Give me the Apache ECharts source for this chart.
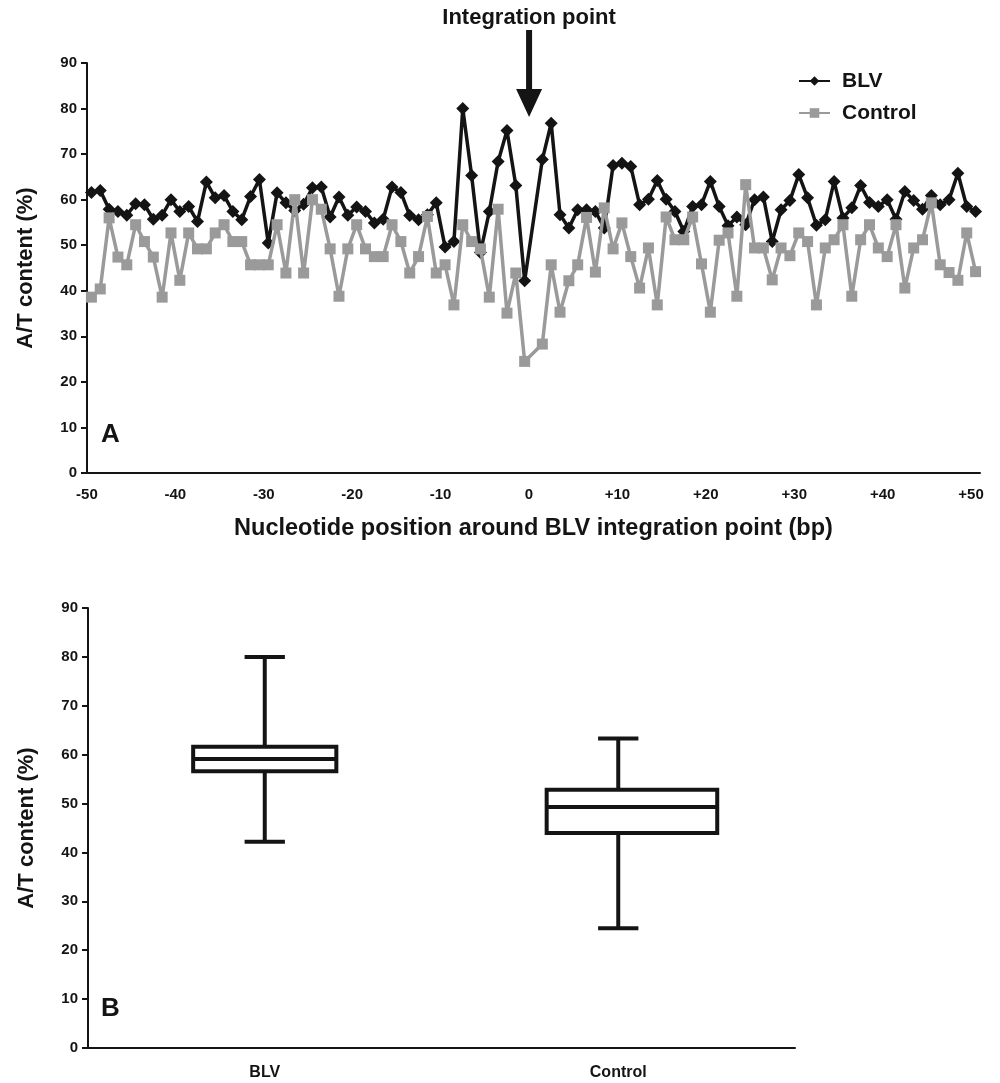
<!DOCTYPE html>
<html>
<head>
<meta charset="utf-8">
<script src="https://cdn.jsdelivr.net/npm/echarts@6/dist/echarts.min.js"></script>
<style>
  html, body { margin: 0; padding: 0; background: #ffffff; }
  #chart { width: 1000px; height: 1083px; }
</style>
</head>
<body>
<div id="chart"></div>
<script>
// Nucleotide positions around the integration point (-50 .. +50); position 0 is the
// integration site itself and carries no value.
const positions = [];
for (let p = -50; p <= 50; p++) positions.push(p === 0 ? '0' : (p > 0 ? '+' + p : String(p)));

// A/T content (%) per position, BLV integration sites
const blvValues = [
  61.6, 62.0, 57.9, 57.4, 56.6, 59.1, 58.9, 55.7, 56.6, 60.0,   // -50 .. -41
  57.4, 58.5, 55.2, 63.9, 60.4, 60.9, 57.4, 55.6, 60.7, 64.4,   // -40 .. -31
  50.5, 61.5, 59.3, 57.6, 59.0, 62.6, 62.8, 56.2, 60.6, 56.6,   // -30 .. -21
  58.4, 57.4, 54.9, 55.7, 62.8, 61.6, 56.5, 55.6, 56.7, 59.3,   // -20 .. -11
  49.6, 50.8, 80.0, 65.3, 48.4, 57.4, 68.4, 75.2, 63.1, 42.2,   // -10 .. -1
  null,                                                         // 0
  68.8, 76.8, 56.7, 53.8, 57.8, 57.8, 57.4, 53.8, 67.5, 68.0,   // +1 .. +10
  67.3, 58.9, 60.1, 64.2, 60.1, 57.4, 53.0, 58.5, 58.9, 64.0,   // +11 .. +20
  58.5, 54.3, 56.2, 54.5, 60.0, 60.6, 50.8, 57.8, 59.8, 65.5,   // +21 .. +30
  60.4, 54.4, 55.6, 64.0, 56.0, 58.2, 63.1, 59.4, 58.5, 60.0,   // +31 .. +40
  55.7, 61.8, 59.8, 57.9, 60.9, 58.9, 60.0, 65.8, 58.5, 57.4    // +41 .. +50
];

// A/T content (%) per position, control sequences
const controlValues = [
  38.6, 40.4, 56.0, 47.4, 45.7, 54.5, 50.8, 47.4, 38.6, 52.7,   // -50 .. -41
  42.3, 52.7, 49.2, 49.2, 52.7, 54.5, 50.8, 50.8, 45.7, 45.7,   // -40 .. -31
  45.7, 54.5, 43.9, 60.0, 43.9, 60.0, 57.9, 49.2, 38.8, 49.2,   // -30 .. -21
  54.5, 49.2, 47.5, 47.5, 54.5, 50.8, 43.9, 47.5, 56.3, 43.9,   // -20 .. -11
  45.7, 36.9, 54.5, 50.8, 49.2, 38.6, 57.9, 35.1, 43.9, 24.5,   // -10 .. -1
  null,                                                         // 0
  28.3, 45.7, 35.3, 42.2, 45.7, 56.1, 44.1, 58.2, 49.2, 54.9,   // +1 .. +10
  47.5, 40.6, 49.4, 36.9, 56.2, 51.2, 51.2, 56.2, 45.9, 35.3,   // +11 .. +20
  51.1, 52.7, 38.8, 63.3, 49.4, 49.4, 42.4, 49.4, 47.7, 52.7,   // +21 .. +30
  50.8, 36.9, 49.4, 51.2, 54.5, 38.8, 51.2, 54.5, 49.4, 47.5,   // +31 .. +40
  54.5, 40.6, 49.4, 51.2, 59.3, 45.7, 44.0, 42.3, 52.7, 44.2    // +41 .. +50
];

// Box-plot summary (panel B)
const groups    = ['BLV', 'Control'];
const boxMin    = [42.2, 24.5];
const boxQ1     = [56.6, 44.0];
const boxMedian = [59.1, 49.3];
const boxQ3     = [61.6, 52.8];
const boxMax    = [80.0, 63.3];

const FONT = '"Liberation Sans", Arial, Helvetica, sans-serif';
const INK = '#141414';
const GREY = '#9a9a9a';

// Box extents left / right of the whisker, as fractions of the category band
const boxSpan = { BLV: [0.2025, 0.2025], Control: [0.2025, 0.28] };
const capHalfFrac = 0.057;

const boxData = groups.map((g, i) => [i, boxMin[i], boxQ1[i], boxMedian[i], boxQ3[i], boxMax[i]]);

function renderBox(params, api) {
  const idx = api.value(0);
  const band = api.size([1, 0])[0];
  const span = boxSpan[groups[idx]];
  const left = band * span[0];
  const right = band * span[1];
  const capHalf = band * capHalfFrac;
  const pMin = api.coord([idx, api.value(1)]);
  const pQ1 = api.coord([idx, api.value(2)]);
  const pMed = api.coord([idx, api.value(3)]);
  const pQ3 = api.coord([idx, api.value(4)]);
  const pMax = api.coord([idx, api.value(5)]);
  const x = pMed[0];
  const stroke = { stroke: INK, lineWidth: 4, fill: null };
  const line = (x1, y1, x2, y2) => ({ type: 'line', shape: { x1, y1, x2, y2 }, style: stroke });
  return {
    type: 'group',
    children: [
      line(x, pMax[1], x, pQ3[1]),
      line(x, pQ1[1], x, pMin[1]),
      line(x - capHalf, pMax[1], x + capHalf, pMax[1]),
      line(x - capHalf, pMin[1], x + capHalf, pMin[1]),
      { type: 'rect', shape: { x: x - left, y: pQ3[1], width: left + right, height: pQ1[1] - pQ3[1] },
        style: { stroke: INK, lineWidth: 4, fill: '#ffffff' } },
      line(x - left, pMed[1], x + right, pMed[1])
    ]
  };
}

const axisText = { fontFamily: FONT, fontWeight: 'bold', fontSize: 15, color: INK };
const titleText = { fontFamily: FONT, fontWeight: 'bold', color: INK };

const valueAxis = (gridIndex) => ({
  gridIndex, type: 'value', min: 0, max: 90, interval: 10,
  splitLine: { show: false },
  axisLine: { show: true, lineStyle: { color: INK, width: 2 } },
  axisTick: { show: true, length: 6, lineStyle: { color: INK, width: 2 } },
  axisLabel: Object.assign({ margin: 10 }, axisText),
  name: 'A/T content (%)', nameLocation: 'middle', nameGap: 50,
  nameTextStyle: Object.assign({ fontSize: 22 }, titleText)
});

const chart = echarts.init(document.getElementById('chart'), null, { renderer: 'canvas' });

chart.setOption({
  animation: false,
  backgroundColor: '#ffffff',
  textStyle: { fontFamily: FONT },
  grid: [
    { left: 87, top: 63, width: 893, height: 410 },
    { left: 88, top: 608, width: 707, height: 440 }
  ],
  xAxis: [
    {
      gridIndex: 0, type: 'category', data: positions, boundaryGap: true,
      axisLine: { lineStyle: { color: INK, width: 2 } },
      axisTick: { interval: 9, length: 5, lineStyle: { color: INK, width: 2 } },
      // labels sit on the tick marks (band boundaries)
      axisLabel: Object.assign({ interval: 9, margin: 14, padding: [0, 9, 0, 0] }, axisText),
      name: 'Nucleotide position around BLV integration point (bp)',
      nameLocation: 'middle', nameGap: 44,
      nameTextStyle: Object.assign({ fontSize: 23.5 }, titleText)
    },
    {
      gridIndex: 1, type: 'category', data: groups, boundaryGap: true,
      axisLine: { lineStyle: { color: INK, width: 2 } },
      axisTick: { length: 5, lineStyle: { color: INK, width: 2 } },
      axisLabel: Object.assign({ margin: 17 }, axisText, { fontSize: 16 })
    }
  ],
  yAxis: [valueAxis(0), valueAxis(1)],
  legend: {
    data: ['BLV', 'Control'],
    orient: 'vertical', left: 798, top: 70, padding: 0,
    itemWidth: 31, itemHeight: 12, itemGap: 10,
    textStyle: { fontFamily: FONT, fontWeight: 'bold', fontSize: 21, color: INK, lineHeight: 22, padding: [0, 0, 0, 7] }
  },
  series: [
    {
      name: 'BLV', type: 'line', xAxisIndex: 0, yAxisIndex: 0,
      data: blvValues, connectNulls: true, showAllSymbol: true,
      symbol: 'diamond', symbolSize: 13,
      lineStyle: { color: INK, width: 3.5 }, itemStyle: { color: INK },
      z: 2
    },
    {
      name: 'Control', type: 'line', xAxisIndex: 0, yAxisIndex: 0,
      data: controlValues, connectNulls: true, showAllSymbol: true,
      symbol: 'rect', symbolSize: 11,
      lineStyle: { color: GREY, width: 3.5 }, itemStyle: { color: GREY },
      z: 3
    },
    {
      type: 'custom', xAxisIndex: 1, yAxisIndex: 1,
      data: boxData, renderItem: renderBox,
      encode: { x: 0, y: [1, 2, 3, 4, 5] }, z: 4
    }
  ]
});

// The integration point sits on the band boundary between positions -1 and 0.
const xZero = chart.convertToPixel({ xAxisIndex: 0 }, '0');
const xPrev = chart.convertToPixel({ xAxisIndex: 0 }, '-1');
const ax = (xZero + xPrev) / 2;

chart.setOption({
  graphic: [
    {
      type: 'text', x: ax, y: 7,
      style: Object.assign({ text: 'Integration point', fontSize: 22, align: 'center', verticalAlign: 'top', fill: INK }, titleText)
    },
    {
      type: 'polygon',
      shape: { points: [[ax - 3, 30], [ax + 3, 30], [ax + 3, 89], [ax + 13, 89], [ax, 117], [ax - 13, 89], [ax - 3, 89]] },
      style: { fill: INK }
    },
    { type: 'text', x: 101, y: 422, style: Object.assign({ text: 'A', fontSize: 26, fill: INK }, titleText) },
    { type: 'text', x: 101, y: 996, style: Object.assign({ text: 'B', fontSize: 26, fill: INK }, titleText) }
  ]
});
</script>
</body>
</html>
